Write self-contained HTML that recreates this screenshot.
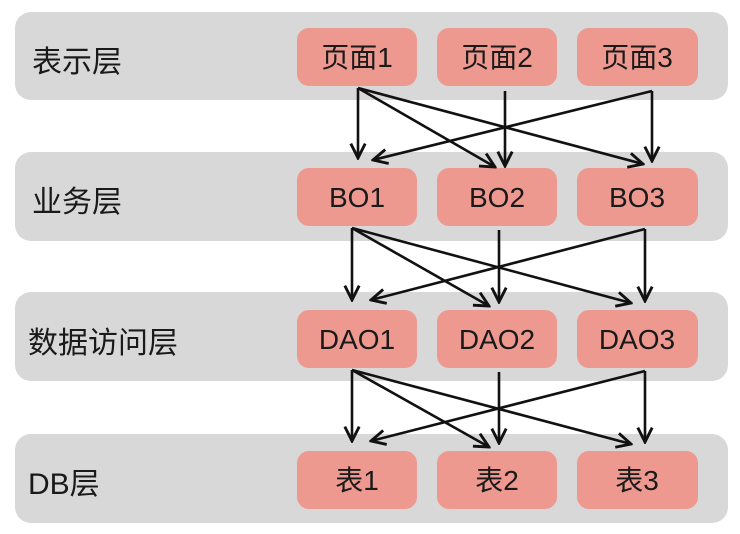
<!DOCTYPE html>
<html><head><meta charset="utf-8"><style>
html,body{margin:0;padding:0;background:#fff;}
svg{display:block;}
text{font-family:"Liberation Sans","Noto Sans CJK SC",sans-serif;fill:#1a1a1a;}
</style></head><body>
<svg width="740" height="534" viewBox="0 0 740 534" xmlns="http://www.w3.org/2000/svg">
<defs>
<marker id="a" viewBox="0 0 20 20" refX="18" refY="10" markerWidth="18" markerHeight="18" markerUnits="userSpaceOnUse" orient="auto">
<polyline points="2,2 18,10 2,18" fill="none" stroke="#111" stroke-width="3.2"/>
</marker>
</defs>
<g fill="#d8d8d8">
<rect x="15" y="12" width="713" height="88" rx="16"/>
<rect x="15" y="152" width="713" height="89" rx="16"/>
<rect x="15" y="292" width="713" height="89" rx="16"/>
<rect x="15" y="434" width="713" height="89" rx="16"/>
</g>
<g fill="#ee9990">
<rect x="297" y="28" width="120" height="58" rx="12"/><rect x="437" y="28" width="120" height="58" rx="12"/><rect x="577" y="28" width="121" height="58" rx="12"/>
<rect x="297" y="168" width="120" height="58" rx="12"/><rect x="437" y="168" width="120" height="58" rx="12"/><rect x="577" y="168" width="121" height="58" rx="12"/>
<rect x="297" y="310" width="120" height="58" rx="12"/><rect x="437" y="310" width="120" height="58" rx="12"/><rect x="577" y="310" width="121" height="58" rx="12"/>
<rect x="297" y="451" width="120" height="58" rx="12"/><rect x="437" y="451" width="120" height="58" rx="12"/><rect x="577" y="451" width="121" height="58" rx="12"/>
</g>
<g font-size="30">
<text x="32" y="72">表示层</text>
<text x="32" y="212">业务层</text>
<text x="28" y="353">数据访问层</text>
<text x="28" y="494">DB层</text>
</g>
<g font-size="28" text-anchor="middle">
<text x="357" y="67">页面1</text><text x="497" y="67">页面2</text><text x="637" y="67">页面3</text>
<text x="357" y="207">BO1</text><text x="497" y="207">BO2</text><text x="637" y="207">BO3</text>
<text x="357" y="349">DAO1</text><text x="497" y="349">DAO2</text><text x="637" y="349">DAO3</text>
<text x="357" y="490">表1</text><text x="497" y="490">表2</text><text x="637" y="490">表3</text>
</g>
<g stroke="#111" stroke-width="2.6" fill="none" marker-end="url(#a)">
<line x1="358" y1="88" x2="358" y2="158"/>
<line x1="358" y1="88" x2="495" y2="167"/>
<line x1="358" y1="88" x2="643" y2="164"/>
<line x1="505" y1="91" x2="505" y2="166"/>
<line x1="652" y1="91" x2="652" y2="161"/>
<line x1="652" y1="91" x2="373" y2="160"/>
<line x1="352" y1="228" x2="352" y2="300"/>
<line x1="352" y1="228" x2="489" y2="306"/>
<line x1="352" y1="228" x2="631" y2="303"/>
<line x1="499" y1="230" x2="499" y2="302"/>
<line x1="645" y1="229" x2="645" y2="301"/>
<line x1="645" y1="229" x2="371" y2="300"/>
<line x1="352" y1="370" x2="352" y2="441"/>
<line x1="352" y1="370" x2="489" y2="447"/>
<line x1="352" y1="370" x2="631" y2="444"/>
<line x1="499" y1="372" x2="499" y2="443"/>
<line x1="645" y1="371" x2="645" y2="442"/>
<line x1="645" y1="371" x2="371" y2="441"/>
</g>
</svg>
</body></html>
